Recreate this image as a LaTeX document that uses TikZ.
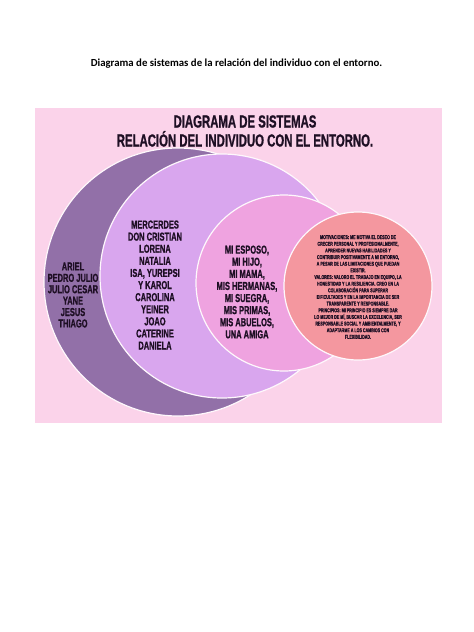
\documentclass[tikz,border=0pt]{standalone}
\usepackage{fontspec}
\setmainfont{Carlito}
\newfontfamily\cond[FakeStretch=0.65, FakeBold=1.0]{Liberation Sans Bold}

\definecolor{bgpink}{HTML}{FBD3EA}
\definecolor{ringdark}{HTML}{9270A8}
\definecolor{ringlight}{HTML}{D9A6EE}
\definecolor{ringpink}{HTML}{EFA3E0}
\definecolor{ringsalmon}{HTML}{F4979F}
\definecolor{ink}{HTML}{1E0F24}

\tikzset{
  ring/.style={circle, draw=white!85!bgpink, line width=1.2pt, inner sep=0pt},
  names/.style={text=ink, align=center, inner sep=0pt,
    font=\cond\fontsize{11.5}{12.1}\selectfont},
}

\begin{document}
\begin{tikzpicture}[x=1pt, y=-1pt]

    \useasboundingbox[fill=white] (0,0) rectangle (474,632);

    % page title
    \node (pagetitle) at (236.5,64) {\bfseries\fontsize{10.8}{12}\selectfont Diagrama de sistemas de la relación del individuo con el entorno.};

    % pink card
    \fill[bgpink] (35,108) rectangle (442,423);

    % rings
    \node[ring, fill=ringdark, minimum size=268pt] (outer) at (178,282) {};
    \node[ring, fill=ringlight, minimum size=244pt] (family) at (222,276) {};
    \node[ring, fill=ringpink, minimum size=176pt] (close) at (284,283) {};
    \node[ring, fill=ringsalmon, minimum size=148pt] (self) at (358,286) {};

    % heading
    \node[names, font=\cond\fontsize{17.5}{19}\selectfont] (heading) at (245,131)
      {DIAGRAMA DE SISTEMAS\\RELACIÓN DEL INDIVIDUO CON EL ENTORNO.};

    % names in each ring
    \node[names, font=\cond\fontsize{11.5}{11.4}\selectfont] (outernames) at (73,295)
      {ARIEL\\PEDRO JULIO\\JULIO CESAR\\YANE\\JESUS\\THIAGO};
    \node[names] (familynames) at (155,285)
      {MERCERDES\\DON CRISTIAN\\LORENA\\NATALIA\\ISA, YUREPSI\\Y KAROL\\CAROLINA\\YEINER\\JOAO\\CATERINE\\DANIELA};
    \node[names] (closenames) at (247,292)
      {MI ESPOSO,\\MI HIJO,\\MI MAMA,\\MIS HERMANAS,\\MI SUEGRA,\\MIS PRIMAS,\\MIS ABUELOS,\\UNA AMIGA};
    \node[names, font=\cond\fontsize{5.6}{6.65}\selectfont] (selftext) at (358,287)
      {MOTIVACIONES: ME MOTIVA EL DESEO DE\\CRECER PERSONAL Y PROFESIONALMENTE,\\APRENDER NUEVAS HABILIDADES Y\\CONTRIBUIR POSITIVAMENTE A MI ENTORNO,\\A PESAR DE LAS LIMITACIONES QUE PUEDAN\\EXISTIR.\\VALORES: VALORO EL TRABAJO EN EQUIPO, LA\\HONESTIDAD Y LA RESILIENCIA. CREO EN LA\\COLABORACIÓN PARA SUPERAR\\DIFICULTADES Y EN LA IMPORTANCIA DE SER\\TRANSPARENTE Y RESPONSABLE.\\PRINCIPIOS: MI PRINCIPIO ES SIEMPRE DAR\\LO MEJOR DE MÍ, BUSCAR LA EXCELENCIA, SER\\RESPONSABLE SOCIAL Y AMBIENTALMENTE, Y\\ADAPTARME A LOS CAMBIOS CON\\FLEXIBILIDAD.};

\end{tikzpicture}
\end{document}
